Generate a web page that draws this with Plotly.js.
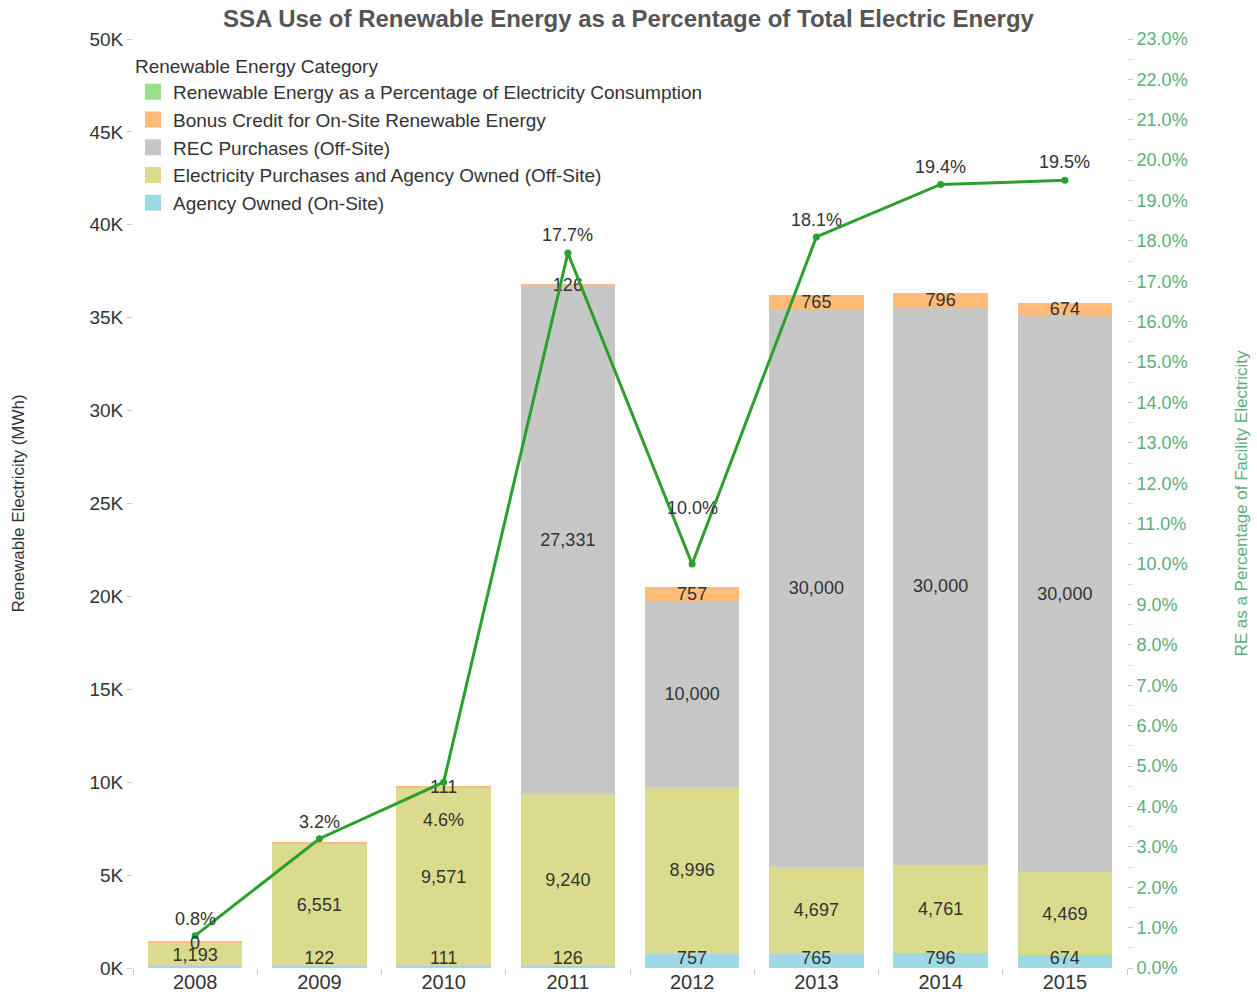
<!DOCTYPE html>
<html>
<head>
<meta charset="utf-8">
<script src="https://cdn.plot.ly/plotly-3.0.1.min.js"></script>
<style>
  html, body { margin: 0; padding: 0; background: #fff; }
  #chart { width: 1257px; height: 998px; }
</style>
</head>
<body>
<div id="chart"></div>
<script>
// years on the x axis
const years = ["2008", "2009", "2010", "2011", "2012", "2013", "2014", "2015"];

// stacked bar segments (MWh), bottom to top
const agencyOnSite = [130, 122, 111, 126, 757, 765, 796, 674];
const purchasesOffSite = [1193, 6551, 9571, 9240, 8996, 4697, 4761, 4469];
const recPurchases = [0, null, null, 27331, 10000, 30000, 30000, 30000];
const bonusCredit = [130, 122, 111, 126, 757, 765, 796, 674];

// labels shown on segments (Tableau hides the ones that collide)
const agencyLabels = ["", "122", "111", "126", "757", "765", "796", "674"];
const purchaseLabels = ["1,193", "6,551", "9,571", "9,240", "8,996", "4,697", "4,761", "4,469"];
const recLabels = ["0", "", "", "27,331", "10,000", "30,000", "30,000", "30,000"];
const bonusLabels = ["", "", "111", "126", "757", "765", "796", "674"];

// renewable share of facility electricity (%)
const rePercent = [0.8, 3.2, 4.6, 17.7, 10.0, 18.1, 19.4, 19.5];
// vertical offset (px) of each percent label from its point
const pctLabelShift = [17, 17, -38, 18, 56, 17, 17, 18];

const leftTicks = [0, 5000, 10000, 15000, 20000, 25000, 30000, 35000, 40000, 45000, 50000];
const leftTickText = ["0K", "5K", "10K", "15K", "20K", "25K", "30K", "35K", "40K", "45K", "50K"];
const rightTicks = [];
const rightTickText = [];
for (let i = 0; i <= 23; i++) {
  rightTicks.push(i);
  rightTickText.push(i.toFixed(1) + "%");
}

const colors = {
  onSite: "#9edae5",
  offSite: "#dbdb8d",
  rec: "#c7c7c7",
  bonus: "#ffbb78",
  pctLegend: "#98df8a",
  line: "#2ca02c",
  axisGreen: "#5aae7a",
};

const labelFont = { family: "Liberation Sans, Arial, sans-serif", size: 18, color: "#333" };

function barTrace(name, values, labels, color) {
  return {
    type: "bar",
    name: name,
    x: years,
    y: values,
    text: labels,
    textposition: "inside",
    insidetextanchor: "middle",
    textangle: 0,
    textfont: labelFont,
    marker: { color: color, line: { width: 0 } },
    showlegend: false,
    hoverinfo: "skip",
  };
}

function legendSwatch(name, color) {
  return {
    type: "scatter",
    mode: "markers",
    name: name,
    x: [null],
    y: [null],
    marker: { symbol: "square", size: 16, color: color },
    hoverinfo: "skip",
  };
}

const traces = [
  barTrace("Agency Owned (On-Site)", agencyOnSite, agencyLabels.map(() => ""), colors.onSite),
  barTrace("Electricity Purchases and Agency Owned (Off-Site)", purchasesOffSite, purchaseLabels, colors.offSite),
  barTrace("REC Purchases (Off-Site)", recPurchases, recLabels, colors.rec),
  barTrace("Bonus Credit for On-Site Renewable Energy", bonusCredit, bonusLabels, colors.bonus),
  // on-site labels sit at the foot of the bars
  {
    type: "scatter",
    mode: "text",
    x: years,
    y: agencyOnSite.map(() => 0),
    text: agencyLabels,
    textposition: "top center",
    textfont: labelFont,
    cliponaxis: false,
    showlegend: false,
    hoverinfo: "skip",
  },
  {
    type: "scatter",
    mode: "lines+markers",
    x: years,
    y: rePercent,
    yaxis: "y2",
    line: { color: colors.line, width: 3 },
    marker: { color: colors.line, size: 7 },
    showlegend: false,
    hoverinfo: "skip",
  },
  legendSwatch("Renewable Energy as a Percentage of Electricity Consumption", colors.pctLegend),
  legendSwatch("Bonus Credit for On-Site Renewable Energy", colors.bonus),
  legendSwatch("REC Purchases (Off-Site)", colors.rec),
  legendSwatch("Electricity Purchases and Agency Owned (Off-Site)", colors.offSite),
  legendSwatch("Agency Owned (On-Site)", colors.onSite),
];

// annotations on a category axis take the category index
const annotations = rePercent.map((v, i) => ({
  x: i,
  y: v,
  xref: "x",
  yref: "y2",
  text: v.toFixed(1) + "%",
  showarrow: false,
  yshift: pctLabelShift[i],
  font: labelFont,
}));

// zero-height REC segment for 2008 still carries its "0" label
recPurchases.forEach((v, i) => {
  if (v === 0) {
    annotations.push({
      x: i,
      y: agencyOnSite[i] + purchasesOffSite[i],
      xref: "x",
      yref: "y",
      text: recLabels[i],
      showarrow: false,
      font: labelFont,
    });
  }
});

const layout = {
  width: 1257,
  height: 998,
  barmode: "stack",
  bargap: 0.24,
  paper_bgcolor: "#fff",
  plot_bgcolor: "#fff",
  font: { family: "Liberation Sans, Arial, sans-serif", size: 18, color: "#333" },
  margin: { l: 133, r: 130, t: 39, b: 30 },
  title: {
    text: "<b>SSA Use of Renewable Energy as a Percentage of Total Electric Energy</b>",
    font: { size: 24, color: "#555" },
    x: 0.5,
    xanchor: "center",
    y: 0.981,
    yanchor: "middle",
  },
  uniformtext: { mode: "show", minsize: 18 },
  annotations: annotations,
  xaxis: {
    type: "category",
    range: [-0.5, years.length - 0.5],
    showgrid: false,
    zeroline: false,
    showline: false,
    ticks: "outside",
    tickson: "boundaries",
    ticklen: 6,
    tickcolor: "#ccc",
    tickfont: { size: 20, color: "#333" },
  },
  yaxis: {
    range: [0, 50000],
    tickvals: leftTicks,
    ticktext: leftTickText,
    showgrid: false,
    zeroline: false,
    showline: false,
    ticks: "outside",
    ticklen: 5,
    tickcolor: "#ccc",
    tickfont: { size: 19, color: "#333" },
    title: { text: "Renewable Electricity (MWh)", font: { size: 17, color: "#333" }, standoff: 60 },
  },
  yaxis2: {
    overlaying: "y",
    side: "right",
    range: [0, 23],
    tickvals: rightTicks,
    ticktext: rightTickText,
    showgrid: false,
    zeroline: false,
    showline: false,
    ticks: "outside",
    ticklen: 5,
    tickcolor: "#ccc",
    minor: { dtick: 0.5, ticks: "outside", ticklen: 5, tickcolor: "#ddd" },
    tickfont: { size: 18, color: colors.axisGreen },
    title: { text: "RE as a Percentage of Facility Electricity", font: { size: 17, color: colors.axisGreen }, standoff: 48 },
  },
  legend: {
    x: 0,
    xanchor: "left",
    y: 0.99,
    yanchor: "top",
    traceorder: "normal",
    bgcolor: "rgba(0,0,0,0)",
    font: { size: 19, color: "#333" },
    title: { text: "Renewable Energy Category", font: { size: 19, color: "#333" } },
    itemwidth: 30,
    tracegroupgap: 0,
  },
};

Plotly.newPlot("chart", traces, layout, { displayModeBar: false, staticPlot: true });
</script>
</body>
</html>
